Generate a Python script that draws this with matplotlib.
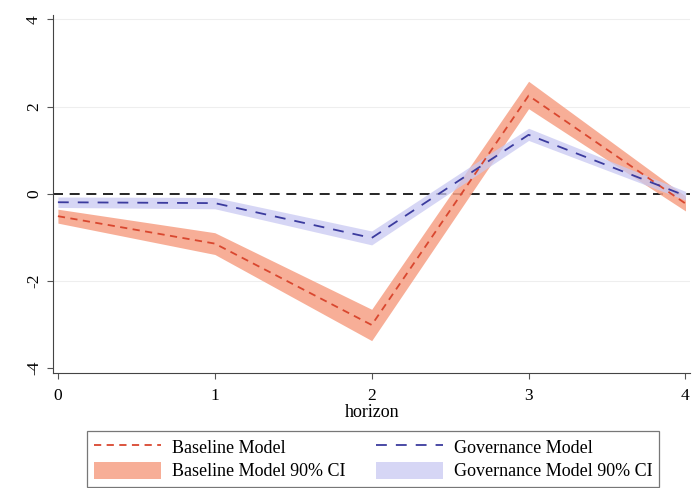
import numpy as np
import matplotlib
matplotlib.use('Agg')
import matplotlib.pyplot as plt

plt.rcParams['font.family'] = ['Liberation Serif', 'DejaVu Serif']

horizon = [0, 1, 2, 3, 4]
base = [-0.52, -1.15, -3.02, 2.25, -0.23]
base_lo = [-0.68, -1.40, -3.38, 1.95, -0.40]
base_hi = [-0.36, -0.90, -2.66, 2.58, -0.06]
gov = [-0.20, -0.22, -1.02, 1.35, -0.05]
gov_lo = [-0.32, -0.35, -1.18, 1.22, -0.15]
gov_hi = [-0.08, -0.09, -0.86, 1.50, 0.05]
yticks = [-4, -2, 0, 2, 4]

fig = plt.figure(figsize=(7, 4.88), dpi=100)
ax = fig.add_axes([0.076, 0.236, 0.910, 0.733])

ax.fill_between(horizon, base_lo, base_hi, color='#f6a085', alpha=0.85, lw=0,
                label='Baseline Model 90% CI', zorder=2)
ax.fill_between(horizon, gov_lo, gov_hi, color='#c9c9f2', alpha=0.75, lw=0,
                label='Governance Model 90% CI', zorder=2)
ax.plot(horizon, base, color='#d9472f', ls=(0, (4, 3)), lw=1.3,
        label='Baseline Model', zorder=3)
ax.plot(horizon, gov, color='#3b3b9e', ls=(0, (6, 5)), lw=1.3,
        label='Governance Model', zorder=3)
ax.axhline(0, color='black', ls=(0, (6, 4)), lw=1.2, zorder=1)

for y in [-2, 2, 4]:
    ax.axhline(y, color='#eeeeee', lw=0.8, zorder=0)

ax.set_xlim(-0.03, 4.03)
ax.set_ylim(-4.12, 4.1)
ax.set_xticks(horizon)
ax.set_yticks(yticks)
ax.set_yticklabels([str(v) for v in yticks], rotation=90, va='center')
ax.tick_params(labelsize=12.5, length=4, pad=4, color='#555555')
ax.tick_params(axis='x', pad=7)
ax.spines['top'].set_visible(False)
ax.spines['right'].set_visible(False)
ax.spines['left'].set_color('#444444')
ax.spines['bottom'].set_color('#444444')
ax.set_xlabel('horizon', fontsize=13, labelpad=0)

handles, labels = ax.get_legend_handles_labels()
order = [2, 0, 3, 1]
leg = fig.legend([handles[i] for i in order], [labels[i] for i in order],
                 loc='lower center', bbox_to_anchor=(0.533, -0.017), ncol=2,
                 fontsize=13, frameon=True, fancybox=False, edgecolor='#555555',
                 handlelength=3.7, handleheight=1.1, columnspacing=1.7,
                 borderpad=0.38, labelspacing=0.28, handletextpad=0.6)
leg.get_frame().set_linewidth(0.9)

fig.savefig('out.png', dpi=100)
